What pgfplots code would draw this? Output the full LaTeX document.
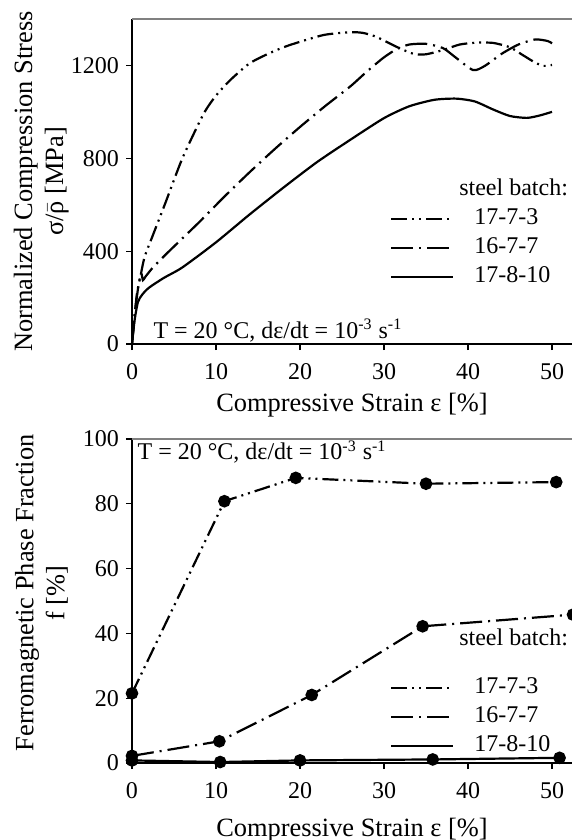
\documentclass[border=0pt]{standalone}
\usepackage{pgfplots}
\pgfplotsset{compat=1.18}
\usepackage{fontspec}
\setmainfont{Liberation Serif}

\pgfplotsset{
  b773/.style={black, line width=1.1pt, dash pattern=on 8pt off 2.5pt on 1pt off 2.5pt on 1pt off 2.5pt},
  b767/.style={black, line width=1.1pt, dash pattern=on 11pt off 3pt on 1pt off 3pt},
  b8710/.style={black, line width=1.1pt},
  panel/.style={
    scale only axis, width=220pt,
    xmin=0, xmax=52.38, ymin=0,
    axis x line*=bottom, axis y line*=left,
    axis line style={black, line width=0.6pt, -},
    tick align=outside, major tick length=3pt,
    tick style={black, line width=0.6pt},
    xtick={0,10,...,50},
    ticklabel style={font=\fontsize{12}{14}\selectfont},
    xticklabel style={yshift=-3.2pt},
    /pgf/number format/assume math mode=true,
    /pgf/number format/1000 sep={},
    label style={font=\fontsize{13.2}{15.5}\selectfont},
    xlabel={Compressive Strain ε [\%]},
    clip=false,
    legend style={draw=none, fill=none, inner sep=0pt, row sep=3pt, column sep=10pt,
      font=\fontsize{12}{14}\selectfont,
      nodes={inner sep=0pt, text height=8.5pt, text depth=3pt}},
    legend cell align=left,
    legend image code/.code={\draw[#1] (0pt,0pt) -- (31pt,0pt);},
  },
}

\begin{document}
\begin{tikzpicture}

% upper panel: stress-strain curves
\begin{axis}[panel,
  at={(66pt,-172pt)}, anchor=south west,
  height=162.5pt, ymax=1400,
  ytick={0,400,800,1200},
  ylabel={Normalized Compression Stress\\σ/$\bar{\hbox{ρ}}$ [MPa]},
  ylabel style={at={(axis description cs:-0.206,0.5)}, anchor=center, align=center},
  legend style={at={(rel axis cs:0.586,0.295)}, anchor=west},
]
\addplot[b773, smooth, tension=0.4] coordinates {
  (0,0)(0.3,120)(0.6,220)(1,290)(1.5,375)(2.5,470)(4,610)(6,800)(8.5,990)
  (10,1070)(11.7,1137)(14,1209)(16.5,1255)(18.8,1288)(22.8,1331)(26,1343)
  (27.5,1340)(29.1,1323)(31.5,1280)(33.5,1250)(35,1248)(37,1266)(39,1290)
  (41,1298)(43,1297)(45,1278)(46.5,1245)(48,1212)(49,1198)(50,1202)};
\addlegendentry{17-7-3}
\addplot[b767, smooth, tension=0.4] coordinates {
  (0,0)(0.4,150)(0.8,260)(1.1,305)(1.3,275)(1.6,290)(2.5,330)(4,385)(6,455)
  (8,525)(11,635)(14,740)(17,840)(20,935)(23,1025)(26,1110)(28,1175)(30,1235)
  (31.5,1270)(33,1290)(35,1293)(37,1275)(38.5,1235)(40.6,1180)(42,1198)
  (44,1250)(46,1290)(48,1312)(49.5,1305)(50,1295)};
\addlegendentry{16-7-7}
\addplot[b8710, smooth, tension=0.4] coordinates {
  (0,0)(0.3,100)(0.7,180)(1.2,212)(2,242)(3.8,285)(6,330)(10,438)(14,558)
  (18,673)(22,783)(26,880)(30,973)(33,1024)(36,1052)(38.6,1057)(40.8,1045)
  (43,1010)(45,982)(47,974)(48.5,984)(50,1000)};
\addlegendentry{17-8-10}
\draw[gray, line width=0.8pt] (rel axis cs:0,1) -- (rel axis cs:1,1);
\node[anchor=base west, inner sep=0pt, font=\fontsize{12}{14}\selectfont]
  at (rel axis cs:0.743,0.458) {steel batch:};
\node[anchor=base west, inner sep=0pt, font=\fontsize{12}{14}\selectfont]
  at (rel axis cs:0.048,0.018) {T = 20 °C, dε/dt = 10\textsuperscript{-3} s\textsuperscript{-1}};
\end{axis}

% lower panel: ferromagnetic phase fraction
\begin{axis}[panel,
  at={(66pt,-381.5pt)}, anchor=south west,
  height=162pt, ymax=100,
  ytick={0,20,...,100},
  ylabel={Ferromagnetic Phase Fraction\\f [\%]},
  ylabel style={at={(axis description cs:-0.206,0.525)}, anchor=center, align=center},
  xlabel style={yshift=-3pt},
  legend style={at={(rel axis cs:0.586,0.142)}, anchor=west},
  mark size=2.6pt,
]
\addplot[b773, mark=*, mark options={solid, fill=black}] coordinates {
  (0,21.5)(11,80.8)(19.5,88)(35,86.2)(50.5,86.7)};
\addlegendentry{17-7-3}
\addplot[b767, mark=*, mark options={solid, fill=black}] coordinates {
  (0,2.2)(10.4,6.7)(21.4,21)(34.6,42.2)(52.5,45.8)};
\addlegendentry{16-7-7}
\addplot[b8710, mark=*, mark options={solid, fill=black}] coordinates {
  (0,0.8)(10.5,0.3)(20,0.8)(35.8,1.1)(50.9,1.6)};
\addlegendentry{17-8-10}
\draw[gray, line width=0.8pt] (rel axis cs:0,1) -- (rel axis cs:1,1);
\node[anchor=base west, inner sep=0pt, font=\fontsize{12}{14}\selectfont]
  at (rel axis cs:0.743,0.364) {steel batch:};
\node[anchor=base west, inner sep=0pt, font=\fontsize{12}{14}\selectfont]
  at (rel axis cs:0.012,0.936) {T = 20 °C, dε/dt = 10\textsuperscript{-3} s\textsuperscript{-1}};
\end{axis}

\pgfresetboundingbox
\path[use as bounding box] (0,0) rectangle (286pt,-420pt);
\end{tikzpicture}
\end{document}
